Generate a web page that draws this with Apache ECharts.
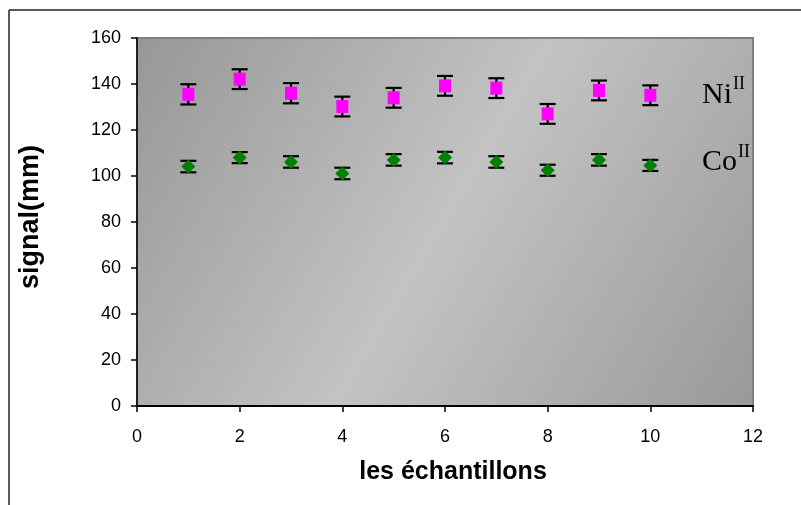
<!DOCTYPE html>
<html>
<head>
<meta charset="utf-8">
<script src="https://cdn.jsdelivr.net/npm/echarts@6/dist/echarts.min.js"></script>
<style>
html,body{margin:0;padding:0;background:#fff;}
#c{width:801px;height:505px;}
</style>
</head>
<body>
<div id="c"></div>
<script>
// Data
const samples = [1, 2, 3, 4, 5, 6, 7, 8, 9, 10];
const niValues = [135.5, 142.1, 136.0, 130.2, 134.0, 139.2, 138.2, 127.0, 137.2, 135.1];
const niErrors = [4.4, 4.3, 4.4, 4.3, 4.3, 4.3, 4.3, 4.3, 4.3, 4.3];
const coValues = [104.1, 108.0, 106.1, 101.1, 107.0, 108.0, 106.1, 102.5, 107.0, 104.6];
const coErrors = [2.5, 2.4, 2.5, 2.5, 2.5, 2.5, 2.5, 2.4, 2.5, 2.4];
const xTicks = [0, 2, 4, 6, 8, 10, 12];
const yTicks = [0, 20, 40, 60, 80, 100, 120, 140, 160];
const seriesNames = ['Ni', 'Co'];

const chart = echarts.init(document.getElementById('c'), null, {renderer: 'canvas'});

function errData(vals, errs) {
  return samples.map((s, i) => [s, vals[i] - errs[i], vals[i] + errs[i]]);
}
function errRender(params, api) {
  const x = api.value(0);
  const lo = api.coord([x, api.value(1)]);
  const hi = api.coord([x, api.value(2)]);
  const hw = 8;
  const st = {stroke: '#000', lineWidth: 2.2};
  return {
    type: 'group',
    children: [
      {type: 'line', shape: {x1: lo[0], y1: lo[1], x2: hi[0], y2: hi[1]}, style: st},
      {type: 'line', shape: {x1: lo[0] - hw, y1: lo[1], x2: lo[0] + hw, y2: lo[1]}, style: st},
      {type: 'line', shape: {x1: hi[0] - hw, y1: hi[1], x2: hi[0] + hw, y2: hi[1]}, style: st}
    ]
  };
}

chart.setOption({
  animation: false,
  backgroundColor: '#ffffff',
  grid: {
    left: 137, top: 38, right: 48, bottom: 99,
    show: true,
    borderColor: '#7f7f7f',
    borderWidth: 2,
    backgroundColor: new echarts.graphic.LinearGradient(0, 0, 1, 1, [
      {offset: 0, color: '#979797'},
      {offset: 0.5, color: '#c3c3c3'},
      {offset: 1, color: '#999999'}
    ])
  },
  xAxis: {
    type: 'value', min: xTicks[0], max: xTicks[xTicks.length - 1], interval: 2,
    name: 'les échantillons', nameLocation: 'middle', nameGap: 54,
    nameTextStyle: {fontFamily: 'Liberation Sans', fontWeight: 'bold', fontSize: 25, color: '#000', padding: [0, 0, 0, 16]},
    axisLine: {onZero: false, lineStyle: {color: '#000', width: 2}},
    axisTick: {show: true, length: 6, lineStyle: {color: '#000', width: 1.5}},
    axisLabel: {fontFamily: 'Liberation Sans', fontSize: 18, color: '#000', margin: 22},
    splitLine: {show: false}
  },
  yAxis: {
    type: 'value', min: yTicks[0], max: yTicks[yTicks.length - 1], interval: 20,
    name: 'signal(mm)', nameLocation: 'middle', nameGap: 93,
    nameTextStyle: {fontFamily: 'Liberation Sans', fontWeight: 'bold', fontSize: 27, color: '#000', padding: [0, 0, 0, 10]},
    axisLine: {show: true, onZero: false, lineStyle: {color: '#000', width: 1.5}},
    axisTick: {show: true, length: 6, lineStyle: {color: '#000', width: 1.5}},
    axisLabel: {fontFamily: 'Liberation Sans', fontSize: 18, color: '#000', margin: 16},
    splitLine: {show: false}
  },
  series: [
    {type: 'custom', name: 'NiErr', renderItem: errRender, data: errData(niValues, niErrors), z: 3},
    {type: 'custom', name: 'CoErr', renderItem: errRender, data: errData(coValues, coErrors), z: 3},
    {type: 'scatter', name: seriesNames[0], symbol: 'rect', symbolSize: [12, 13],
     itemStyle: {color: '#ff00ff', opacity: 1}, data: samples.map((s, i) => [s, niValues[i]]), z: 4},
    {type: 'scatter', name: seriesNames[1], symbol: 'diamond', symbolSize: [14, 14],
     itemStyle: {color: '#008000', opacity: 1}, data: samples.map((s, i) => [s, coValues[i]]), z: 4}
  ],
  graphic: [
    {type: 'line', shape: {x1: 9, y1: 10, x2: 801, y2: 10}, style: {stroke: '#222', lineWidth: 1.5}},
    {type: 'line', shape: {x1: 9, y1: 10, x2: 9, y2: 505}, style: {stroke: '#222', lineWidth: 1.5}},
    {type: 'text', left: 702, top: 80, style: {text: seriesNames[0], font: '30px "Liberation Serif"', fill: '#000'}},
    {type: 'text', left: 733, top: 75, style: {text: 'II', font: '18px "Liberation Serif"', fill: '#000'}},
    {type: 'text', left: 702, top: 147, style: {text: seriesNames[1], font: '30px "Liberation Serif"', fill: '#000'}},
    {type: 'text', left: 738, top: 143, style: {text: 'II', font: '18px "Liberation Serif"', fill: '#000'}}
  ]
});
</script>
</body>
</html>
